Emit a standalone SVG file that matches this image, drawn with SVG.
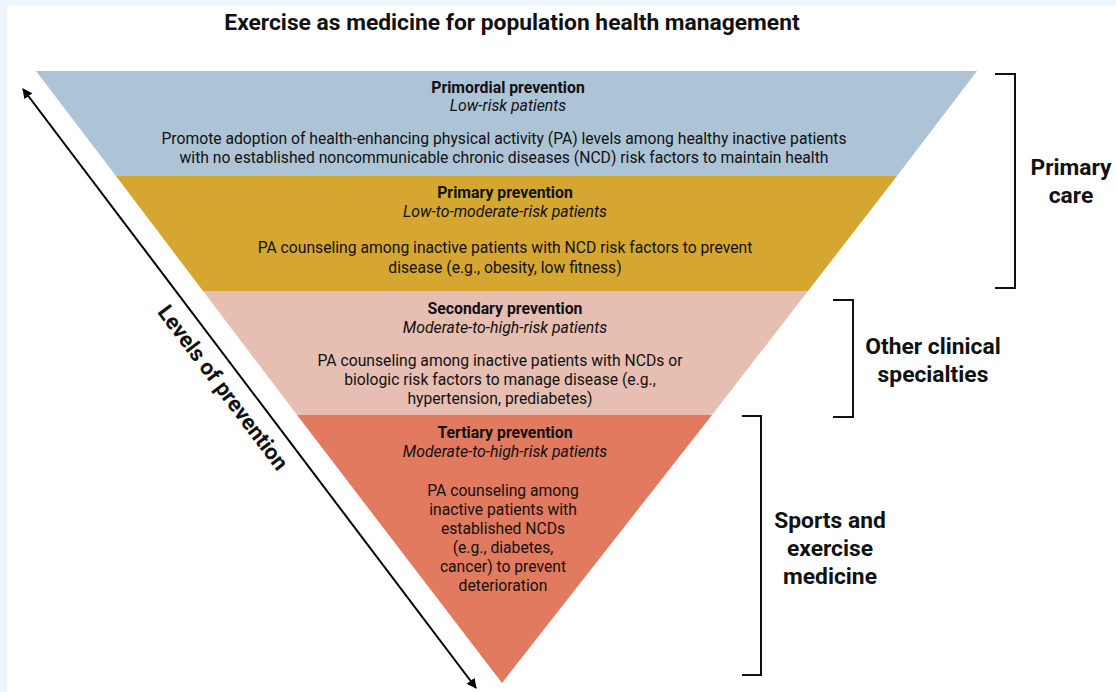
<svg xmlns="http://www.w3.org/2000/svg" width="1116" height="692" viewBox="0 0 1116 692">
<style>
text{font-family:Roboto,"Liberation Sans",sans-serif;fill:#111;text-anchor:middle}
.t{font-size:22.8px;font-weight:bold}
.h{font-size:15.8px;font-weight:bold}
.i{font-size:15.8px;font-style:italic}
.b{font-size:15.7px}
.side{font-size:22.8px;font-weight:bold}
.br{fill:none;stroke:#111;stroke-width:2}
</style>
<defs>
<marker id="ah" viewBox="0 0 10 10" refX="9" refY="5" markerWidth="5" markerHeight="5" orient="auto-start-reverse">
<path d="M0,0 L10,5 L0,10 z" fill="#000"/>
</marker>
</defs>
<rect x="0" y="0" width="1116" height="692" fill="#eef5fd"/>
<rect x="7" y="6" width="1109" height="686" fill="#fff"/>
<text class="t" x="512" y="30">Exercise as medicine for population health management</text>

<g id="primordial">
<polygon points="36,71 977,71 897,176 116,176" fill="#adc4d6"/>
<text class="h" x="508" y="93">Primordial prevention</text>
<text class="i" x="508" y="111">Low-risk patients</text>
<text class="b" x="504" y="144">Promote adoption of health-enhancing physical activity (PA) levels among healthy inactive patients</text>
<text class="b" x="504" y="163">with no established noncommunicable chronic diseases (NCD) risk factors to maintain health</text>
</g>
<g id="primary">
<polygon points="116,176 897,176 808,291 203,291" fill="#d5a730"/>
<text class="h" x="505" y="198">Primary prevention</text>
<text class="i" x="505" y="217">Low-to-moderate-risk patients</text>
<text class="b" x="505" y="253">PA counseling among inactive patients with NCD risk factors to prevent</text>
<text class="b" x="505" y="273">disease (e.g., obesity, low fitness)</text>
</g>
<g id="secondary">
<polygon points="203,291 808,291 712,415 297,415" fill="#e6bfb2"/>
<text class="h" x="505" y="314">Secondary prevention</text>
<text class="i" x="505" y="333">Moderate-to-high-risk patients</text>
<text class="b" x="500" y="366">PA counseling among inactive patients with NCDs or</text>
<text class="b" x="500" y="385">biologic risk factors to manage disease (e.g.,</text>
<text class="b" x="500" y="404">hypertension, prediabetes)</text>
</g>
<g id="tertiary">
<polygon points="297,415 712,415 502,683" fill="#e17a5f"/>
<text class="h" x="505" y="438">Tertiary prevention</text>
<text class="i" x="505" y="457">Moderate-to-high-risk patients</text>
<text class="b" x="503" y="496">PA counseling among</text>
<text class="b" x="503" y="515">inactive patients with</text>
<text class="b" x="503" y="534">established NCDs</text>
<text class="b" x="503" y="553">(e.g., diabetes,</text>
<text class="b" x="503" y="572">cancer) to prevent</text>
<text class="b" x="503" y="591">deterioration</text>
</g>

<g id="connectors">
<line x1="23" y1="89" x2="476" y2="688" stroke="#000" stroke-width="2" marker-start="url(#ah)" marker-end="url(#ah)"/>
<path class="br" d="M995,74 H1015 V288 H995"/>
<path class="br" d="M833,300 H853 V417 H833"/>
<path class="br" d="M742,416 H761 V675 H742"/>
</g>

<g id="levels">
<text class="side" transform="translate(217,392) rotate(52.9)" x="0" y="0" style="font-size:22px">Levels of prevention</text>
</g>
<g id="primary-care">
<text class="side" x="1071" y="175">Primary</text>
<text class="side" x="1071" y="203">care</text>
</g>
<g id="other-clinical">
<text class="side" x="933" y="354">Other clinical</text>
<text class="side" x="933" y="382">specialties</text>
</g>
<g id="sports">
<text class="side" x="830" y="528">Sports and</text>
<text class="side" x="830" y="556">exercise</text>
<text class="side" x="830" y="584">medicine</text>
</g>
</svg>
